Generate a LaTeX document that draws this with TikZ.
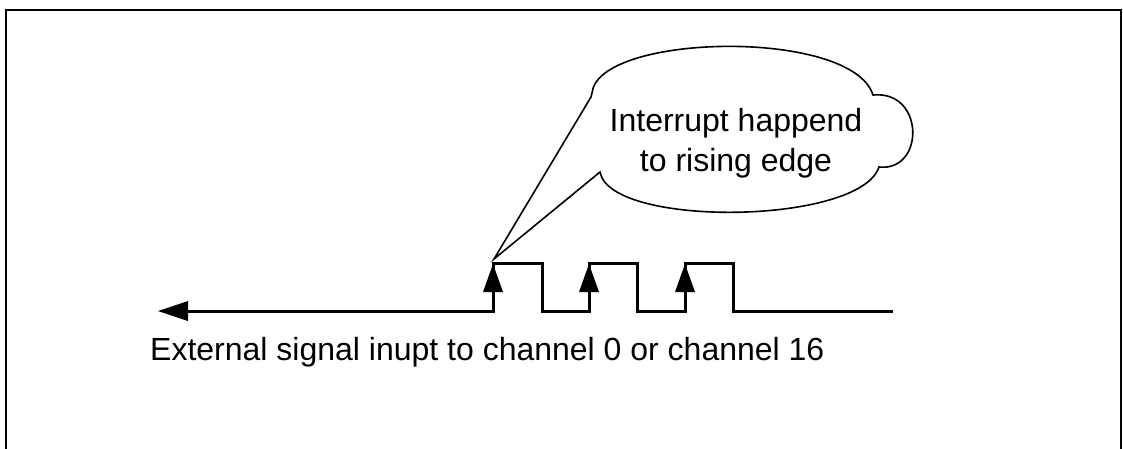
\documentclass[tikz,border=0pt]{standalone}
\usepackage{fontspec}
\setmainfont{Liberation Sans}

\tikzset{
	signal/.style = {line width=3pt, line join=miter},
	bubble/.style = {line width=1.6pt, line join=miter},
	txt/.style = {font=\fontsize{32}{40}\selectfont, align=center, inner sep=0pt}
}

\begin{document}
\begin{tikzpicture}[x=1pt, y=-1pt]
	\useasboundingbox (0,0) rectangle (1123,448);
	\draw[line width=2pt] (6,10) rectangle (1121,470);

	% callout
	\coordinate (tl) at (592,93);
	\coordinate (tr) at (873,95);
	\coordinate (br) at (879,167);
	\coordinate (bl) at (600,172);
	\coordinate (tip) at (494,259);
	\draw[bubble] (tl) .. controls (598,33) and (852,28) .. (tr)
		.. controls (925,90) and (925,172) .. (br)
		.. controls (860,225) and (610,228) .. (bl)
		-- (tip) -- (591,97) -- cycle;
	\node[txt] (note) at (736,143) {Interrupt happend\\to rising edge};

	% waveform
	\coordinate (start) at (158,311);
	\draw[signal] (185,311) -- (493,311)
		-- (493,263) -- (542,263) -- (542,311) -- (589,311)
		-- (589,263) -- (637,263) -- (637,311) -- (685,311)
		-- (685,263) -- (733,263) -- (733,311) -- (893,311);
	\fill (start) -- ++(30,-10) -- ++(0,20) -- cycle;
	\foreach \x in {493,589,685}
		\fill (\x,264) -- ++(-10,28) -- ++(20,0) -- cycle;

	\node[txt, anchor=base west] (label) at (150,360) {External signal inupt to channel 0 or channel 16};
\end{tikzpicture}
\end{document}
